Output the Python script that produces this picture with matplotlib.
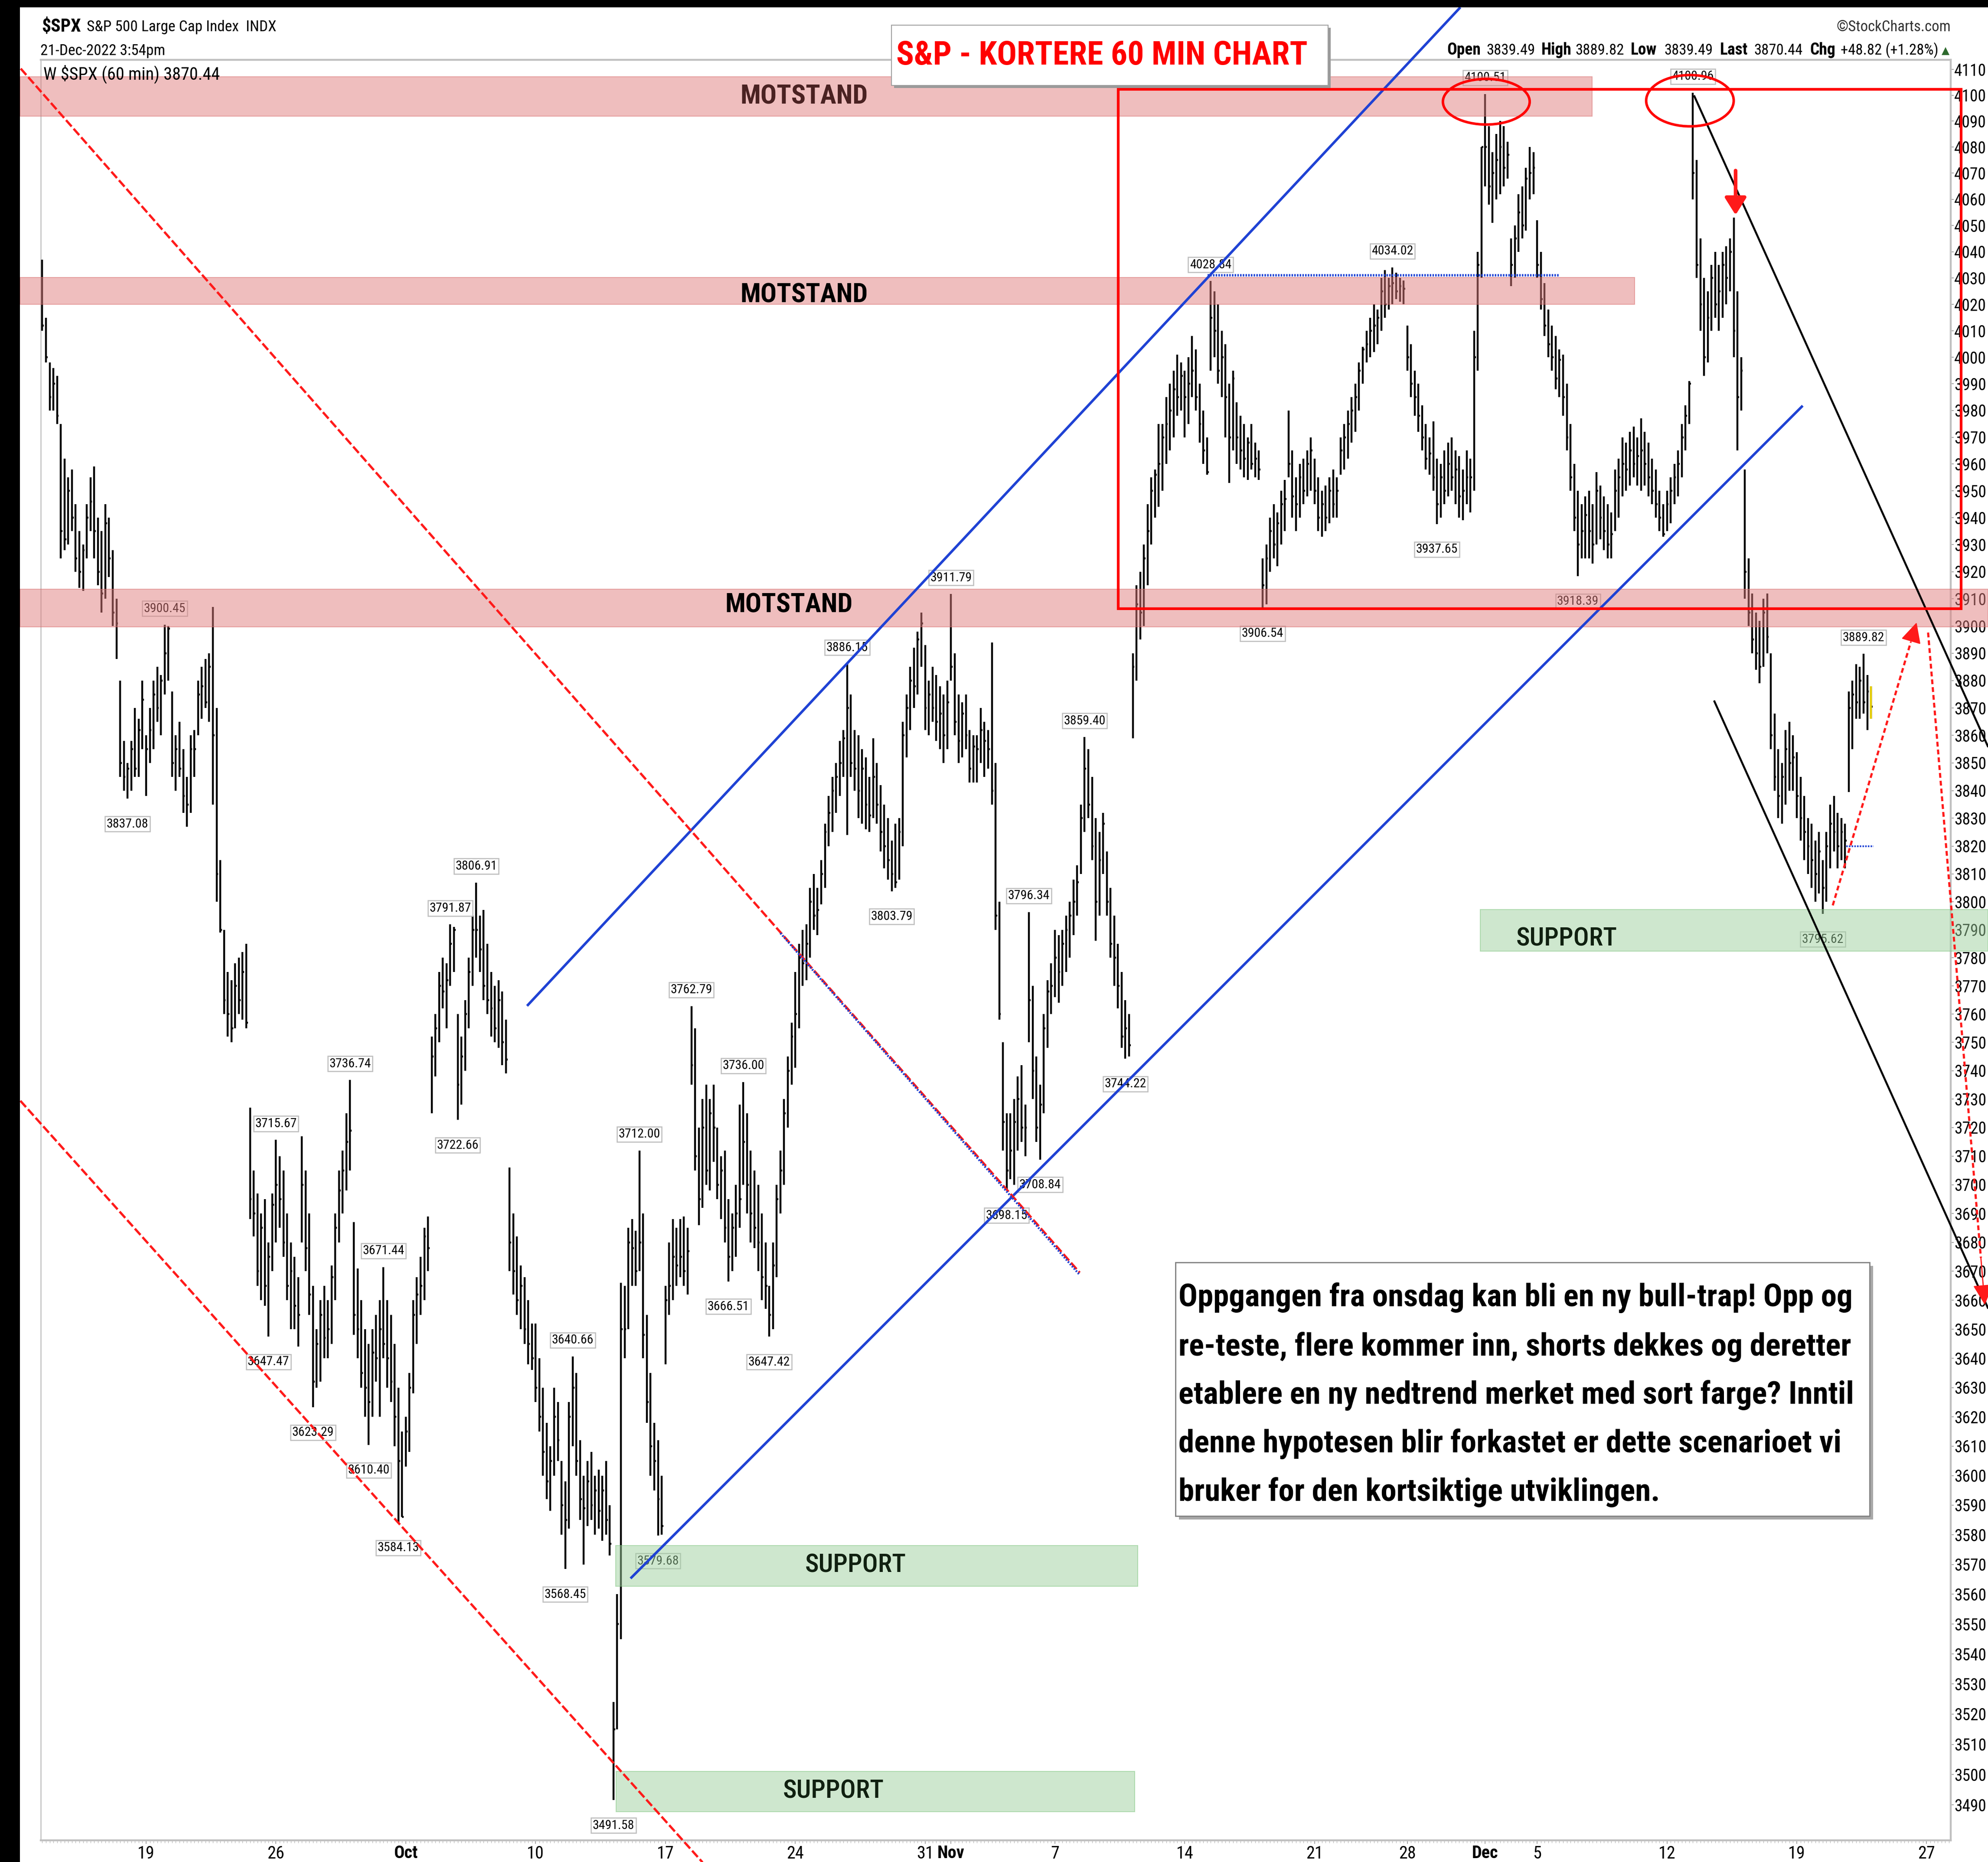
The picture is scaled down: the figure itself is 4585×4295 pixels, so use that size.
import numpy as np
import matplotlib
matplotlib.use("Agg")
import matplotlib.pyplot as plt
from matplotlib import font_manager as fm
from matplotlib.collections import LineCollection
from matplotlib.patches import Rectangle, Ellipse
from matplotlib.ticker import FixedLocator, FixedFormatter, NullLocator

# ---------------------------------------------------------------- data
trade_days = ["09-13", "09-14", "09-15", "09-16", "09-19", "09-20", "09-21", "09-22", "09-23",
              "09-26", "09-27", "09-28", "09-29", "09-30", "10-03", "10-04", "10-05", "10-06",
              "10-07", "10-10", "10-11", "10-12", "10-13", "10-14", "10-17", "10-18", "10-19",
              "10-20", "10-21", "10-24", "10-25", "10-26", "10-27", "10-28", "10-31", "11-01",
              "11-02", "11-03", "11-04", "11-07", "11-08", "11-09", "11-10", "11-11", "11-14",
              "11-15", "11-16", "11-17", "11-18", "11-21", "11-22", "11-23", "11-25", "11-28",
              "11-29", "11-30", "12-01", "12-02", "12-05", "12-06", "12-07", "12-08", "12-09",
              "12-12", "12-13", "12-14", "12-15", "12-16", "12-19", "12-20", "12-21"]
half_days = {"11-25": 4}
future_days = ["12-22", "12-23", "12-27", "12-28"]

bar_high = [
    4037, 4015, 3998, 3996, 3993, 3975, 3962,  # 09-13
    3955, 3958, 3945, 3935, 3930, 3945, 3955,  # 09-14
    3959, 3940, 3935, 3945, 3940, 3928, 3910,  # 09-15
    3880, 3858, 3850, 3858, 3870, 3866, 3880,  # 09-16
    3860, 3870, 3880, 3885, 3882, 3900.45, 3900,  # 09-19
    3876, 3860, 3865, 3855, 3845, 3860, 3862,  # 09-20
    3880, 3885, 3888, 3890, 3907, 3870, 3815,  # 09-21
    3790, 3775, 3772, 3778, 3780, 3782, 3785,  # 09-22
    3727, 3705, 3697, 3690, 3695, 3680, 3697,  # 09-23
    3715.67, 3710, 3705, 3690, 3680, 3675, 3668,  # 09-26
    3717, 3705, 3690, 3665, 3650, 3660, 3665,  # 09-27
    3660, 3672, 3690, 3705, 3712, 3725, 3736.74,  # 09-28
    3687, 3671, 3660, 3650, 3645, 3650, 3655,  # 09-29
    3660, 3671.44, 3660, 3655, 3645, 3630, 3615,  # 09-30
    3620, 3635, 3660, 3668, 3675, 3685, 3689,  # 10-03
    3752, 3760, 3775, 3780, 3778, 3791.87, 3791,  # 10-04
    3760, 3752, 3765, 3780, 3795, 3806.91, 3795,  # 10-05
    3797, 3785, 3775, 3770, 3772, 3768, 3758,  # 10-06
    3706, 3690, 3682, 3672, 3668, 3660, 3652,  # 10-07
    3652, 3640, 3630, 3618, 3610, 3630, 3625,  # 10-10
    3605, 3598, 3625, 3640.66, 3635, 3612, 3600,  # 10-11
    3605, 3608, 3600, 3602, 3600, 3605, 3590,  # 10-12
    3524, 3560, 3666, 3665, 3685, 3688, 3684,  # 10-13
    3712, 3690, 3655, 3635, 3618, 3612, 3600,  # 10-14
    3665, 3680, 3688, 3685, 3688, 3689, 3685,  # 10-17
    3762.79, 3755, 3720, 3730, 3735, 3730, 3735,  # 10-18
    3720, 3710, 3712, 3695, 3690, 3700, 3728,  # 10-19
    3736, 3725, 3712, 3705, 3700, 3690, 3680,  # 10-20
    3665, 3680, 3700, 3712, 3730, 3745, 3757,  # 10-21
    3775, 3785, 3790, 3792, 3805, 3810, 3805,  # 10-24
    3815, 3828, 3838, 3845, 3850, 3858, 3862,  # 10-25
    3886.15, 3875, 3862, 3860, 3855, 3852, 3845,  # 10-26
    3859, 3850, 3842, 3835, 3830, 3822, 3828,  # 10-27
    3830, 3865, 3875, 3885, 3892, 3898, 3905,  # 10-28
    3893, 3880, 3885, 3882, 3878, 3875, 3880,  # 10-31
    3911.79, 3890, 3875, 3872, 3875, 3862, 3860,  # 11-01
    3860, 3870, 3865, 3862, 3894, 3850, 3800,  # 11-02
    3750, 3725, 3725, 3730, 3738, 3742, 3728,  # 11-03
    3796.34, 3770, 3745, 3735, 3760, 3772, 3778,  # 11-04
    3790, 3788, 3790, 3795, 3800, 3808, 3813,  # 11-07
    3835, 3859.40, 3855, 3845, 3830, 3825, 3832,  # 11-08
    3818, 3805, 3795, 3785, 3775, 3765, 3760,  # 11-09
    3890, 3915, 3920, 3930, 3945, 3955, 3958,  # 11-10
    3975, 3975, 3985, 3990, 3995, 4001, 3998,  # 11-11
    3995, 4000, 4008, 4003, 3990, 3980, 3970,  # 11-14
    4028.84, 4025, 4020, 4010, 4005, 3990, 3995,  # 11-15
    3983, 3978, 3975, 3970, 3975, 3968, 3965,  # 11-16
    3925, 3930, 3940, 3945, 3942, 3950, 3954,  # 11-17
    3980, 3965, 3955, 3960, 3962, 3965, 3970,  # 11-18
    3962, 3955, 3950, 3952, 3955, 3958, 3955,  # 11-21
    3970, 3975, 3980, 3985, 3990, 3998, 4004,  # 11-22
    4010, 4015, 4020, 4018, 4030, 4033, 4030,  # 11-23
    4034.02, 4032, 4030, 4029,  # 11-25
    4012, 4005, 3995, 3990, 3982, 3975, 3970,  # 11-28
    3976, 3962, 3960, 3965, 3968, 3970, 3965,  # 11-29
    3963, 3958, 3965, 3962, 4010, 4040, 4080,  # 11-30
    4100.51, 4088, 4078, 4085, 4090, 4088, 4082,  # 12-01
    4045, 4050, 4062, 4065, 4072, 4080, 4078,  # 12-02
    4052, 4040, 4028, 4018, 4012, 4008, 4003,  # 12-05
    4001, 3990, 3975, 3960, 3950, 3945, 3948,  # 12-06
    3950, 3945, 3957, 3952, 3948, 3945, 3942,  # 12-07
    3958, 3962, 3970, 3968, 3972, 3974, 3970,  # 12-08
    3977, 3972, 3968, 3962, 3958, 3950, 3945,  # 12-09
    3950, 3955, 3960, 3965, 3975, 3982, 3991,  # 12-12
    4100.96, 4075, 4045, 4030, 4025, 4035, 4040,  # 12-13
    4035, 4040, 4042, 4045, 4053, 4025, 4000,  # 12-14
    3958, 3925, 3912, 3905, 3902, 3910, 3912,  # 12-15
    3890, 3868, 3855, 3850, 3862, 3865, 3860,  # 12-16
    3854, 3845, 3838, 3830, 3828, 3822, 3825,  # 12-19
    3815, 3825, 3835, 3838, 3832, 3830, 3828,  # 12-20
    3876, 3880, 3886, 3885, 3889.82, 3882, 3878,  # 12-21
]

bar_low = [
    4010, 3998, 3980, 3980, 3975, 3925, 3928,  # 09-13
    3930, 3935, 3920, 3914, 3913, 3925, 3935,  # 09-14
    3925, 3915, 3905, 3910, 3918, 3900, 3888,  # 09-15
    3845, 3840, 3837.08, 3840, 3845, 3845, 3855,  # 09-16
    3838, 3850, 3855, 3865, 3860, 3875, 3880,  # 09-19
    3845, 3840, 3845, 3832, 3827, 3832, 3845,  # 09-20
    3860, 3866, 3870, 3865, 3835, 3800, 3789,  # 09-21
    3760, 3752, 3750, 3755, 3760, 3758, 3755,  # 09-22
    3688, 3682, 3665, 3660, 3658, 3647.47, 3670,  # 09-23
    3680, 3685, 3675, 3660, 3650, 3650, 3644,  # 09-26
    3680, 3670, 3655, 3623.29, 3630, 3632, 3640,  # 09-27
    3640, 3645, 3660, 3680, 3690, 3698, 3705,  # 09-28
    3648, 3640, 3630, 3620, 3610.40, 3620, 3632,  # 09-29
    3620, 3640, 3630, 3625, 3610, 3584.13, 3586,  # 09-30
    3603, 3608, 3628, 3645, 3655, 3660, 3670,  # 10-03
    3725, 3738, 3750, 3762, 3755, 3770, 3775,  # 10-04
    3722.66, 3728, 3740, 3755, 3770, 3780, 3775,  # 10-05
    3765, 3760, 3752, 3750, 3748, 3742, 3739,  # 10-06
    3670, 3662, 3655, 3650, 3645, 3638, 3636,  # 10-07
    3625, 3615, 3600, 3592, 3588, 3600, 3605,  # 10-10
    3580, 3568.45, 3582, 3610, 3600, 3585, 3570,  # 10-11
    3583, 3585, 3580, 3582, 3578, 3580, 3573,  # 10-12
    3491.58, 3515, 3545, 3640, 3650, 3665, 3665,  # 10-13
    3670, 3640, 3618, 3600, 3595, 3579.68, 3580,  # 10-14
    3638, 3655, 3660, 3665, 3668, 3665, 3662,  # 10-17
    3735, 3705, 3686, 3692, 3700, 3698, 3708,  # 10-18
    3695, 3688, 3680, 3666.51, 3670, 3675, 3685,  # 10-19
    3700, 3690, 3680, 3678, 3670, 3660, 3657,  # 10-20
    3647.42, 3650, 3668, 3690, 3700, 3720, 3735,  # 10-21
    3741, 3755, 3770, 3772, 3780, 3790, 3788,  # 10-24
    3799, 3805, 3820, 3825, 3832, 3838, 3845,  # 10-25
    3824, 3845, 3840, 3830, 3828, 3826, 3825,  # 10-26
    3830, 3828, 3818, 3812, 3808, 3803.79, 3805,  # 10-27
    3808, 3820, 3852, 3862, 3870, 3875, 3885,  # 10-28
    3862, 3860, 3865, 3858, 3855, 3850, 3855,  # 10-31
    3880, 3860, 3850, 3852, 3855, 3843, 3843,  # 11-01
    3843, 3850, 3845, 3848, 3835, 3790, 3758,  # 11-02
    3712, 3698.15, 3702, 3700, 3712, 3715, 3710,  # 11-03
    3750, 3730, 3715, 3708.84, 3725, 3748, 3760,  # 11-04
    3766, 3764, 3770, 3775, 3780, 3788, 3795,  # 11-07
    3810, 3825, 3830, 3815, 3786, 3795, 3810,  # 11-08
    3795, 3780, 3770, 3762, 3748, 3744.22, 3745,  # 11-09
    3859, 3880, 3895, 3900, 3915, 3930, 3940,  # 11-10
    3944, 3950, 3960, 3965, 3970, 3978, 3980,  # 11-11
    3970, 3975, 3985, 3980, 3968, 3960, 3956,  # 11-14
    3995, 4000, 3990, 3985, 3970, 3953, 3965,  # 11-15
    3960, 3958, 3955, 3954, 3958, 3955, 3954,  # 11-16
    3906.54, 3908, 3920, 3925, 3922, 3930, 3935,  # 11-17
    3955, 3940, 3935, 3940, 3945, 3948, 3950,  # 11-18
    3945, 3935, 3933, 3935, 3938, 3940, 3940,  # 11-21
    3956, 3958, 3962, 3968, 3972, 3980, 3990,  # 11-22
    3998, 4000, 4002, 4005, 4010, 4015, 4018,  # 11-23
    4020, 4022, 4021, 4020,  # 11-25
    3995, 3985, 3978, 3972, 3965, 3958, 3956,  # 11-28
    3950, 3937.65, 3940, 3945, 3948, 3950, 3945,  # 11-29
    3940, 3939, 3945, 3942, 3950, 3995, 4030,  # 11-30
    4065, 4058, 4051, 4060, 4062, 4065, 4068,  # 12-01
    4027, 4030, 4040, 4045, 4048, 4060, 4062,  # 12-02
    4030, 4018, 4008, 4000, 3995, 3988, 3985,  # 12-05
    3978, 3965, 3950, 3935, 3918.39, 3925, 3925,  # 12-06
    3925, 3923, 3930, 3932, 3928, 3925, 3925,  # 12-07
    3935, 3940, 3948, 3950, 3952, 3955, 3952,  # 12-08
    3950, 3952, 3948, 3945, 3940, 3935, 3933,  # 12-09
    3935, 3938, 3945, 3948, 3955, 3965, 3975,  # 12-12
    4060, 4030, 4010, 3993, 3998, 4010, 4015,  # 12-13
    4010, 4015, 4020, 4025, 4000, 3965, 3980,  # 12-14
    3910, 3900, 3890, 3884, 3879, 3885, 3890,  # 12-15
    3855, 3840, 3830, 3828, 3835, 3840, 3840,  # 12-16
    3830, 3822, 3815, 3810, 3805, 3800, 3803,  # 12-19
    3795.62, 3800, 3812, 3818, 3812, 3815, 3812,  # 12-20
    3839.49, 3855, 3866, 3866, 3868, 3862, 3866,  # 12-21
]

bar_close = [
    4012, 4000, 3985, 3990, 3978, 3935, 3932,  # 09-13
    3950, 3940, 3925, 3920, 3928, 3940, 3946,  # 09-14
    3935, 3920, 3912, 3938, 3925, 3905, 3901,  # 09-15
    3850, 3845, 3848, 3855, 3848, 3862, 3873,  # 09-16
    3855, 3862, 3875, 3870, 3880, 3890, 3899,  # 09-19
    3850, 3855, 3848, 3838, 3835, 3855, 3855,  # 09-20
    3875, 3878, 3872, 3885, 3860, 3810, 3790,  # 09-21
    3765, 3760, 3755, 3770, 3765, 3775, 3757,  # 09-22
    3695, 3690, 3670, 3685, 3665, 3675, 3693,  # 09-23
    3700, 3695, 3680, 3665, 3670, 3658, 3655,  # 09-26
    3700, 3678, 3662, 3632, 3645, 3655, 3647,  # 09-27
    3650, 3668, 3685, 3698, 3705, 3715, 3719,  # 09-28
    3655, 3650, 3635, 3630, 3625, 3642, 3640,  # 09-29
    3650, 3645, 3640, 3632, 3620, 3605, 3586,  # 09-30
    3615, 3630, 3655, 3662, 3665, 3682, 3678,  # 10-03
    3745, 3755, 3770, 3768, 3772, 3785, 3790,  # 10-04
    3735, 3745, 3760, 3775, 3790, 3790, 3783,  # 10-05
    3770, 3765, 3762, 3755, 3765, 3750, 3744,  # 10-06
    3680, 3670, 3660, 3665, 3650, 3645, 3640,  # 10-07
    3630, 3620, 3608, 3598, 3605, 3620, 3612,  # 10-10
    3590, 3585, 3620, 3630, 3605, 3592, 3589,  # 10-11
    3598, 3590, 3595, 3588, 3595, 3585, 3577,  # 10-12
    3515, 3550, 3650, 3650, 3680, 3678, 3670,  # 10-13
    3680, 3648, 3625, 3610, 3605, 3592, 3583,  # 10-14
    3660, 3665, 3675, 3672, 3675, 3670, 3677,  # 10-17
    3742, 3710, 3695, 3720, 3705, 3725, 3720,  # 10-18
    3700, 3705, 3685, 3675, 3685, 3690, 3695,  # 10-19
    3715, 3700, 3690, 3685, 3680, 3668, 3665,  # 10-20
    3655, 3672, 3695, 3705, 3725, 3740, 3752,  # 10-21
    3760, 3780, 3778, 3785, 3800, 3795, 3797,  # 10-24
    3810, 3825, 3832, 3840, 3845, 3850, 3859,  # 10-25
    3870, 3850, 3848, 3840, 3848, 3835, 3831,  # 10-26
    3845, 3835, 3825, 3820, 3815, 3810, 3807,  # 10-27
    3825, 3860, 3870, 3880, 3878, 3895, 3901,  # 10-28
    3870, 3875, 3870, 3865, 3868, 3860, 3872,  # 10-31
    3885, 3865, 3858, 3868, 3860, 3848, 3856,  # 11-01
    3855, 3862, 3858, 3855, 3840, 3795, 3760,  # 11-02
    3722, 3705, 3712, 3722, 3730, 3720, 3720,  # 11-03
    3765, 3740, 3720, 3728, 3755, 3768, 3770,  # 11-04
    3780, 3775, 3785, 3790, 3795, 3800, 3807,  # 11-07
    3830, 3848, 3835, 3820, 3800, 3815, 3828,  # 11-08
    3800, 3785, 3780, 3770, 3752, 3755, 3749,  # 11-09
    3885, 3908, 3905, 3925, 3935, 3950, 3956,  # 11-10
    3960, 3970, 3975, 3980, 3988, 3985, 3993,  # 11-11
    3985, 3990, 3995, 3985, 3975, 3965, 3957,  # 11-14
    4015, 4010, 3995, 4000, 3985, 3970, 3992,  # 11-15
    3970, 3965, 3962, 3968, 3960, 3962, 3958,  # 11-16
    3915, 3925, 3935, 3930, 3938, 3945, 3947,  # 11-17
    3960, 3948, 3945, 3955, 3950, 3960, 3965,  # 11-18
    3950, 3940, 3945, 3940, 3950, 3945, 3950,  # 11-21
    3965, 3970, 3975, 3980, 3985, 3995, 4003,  # 11-22
    4005, 4010, 4012, 4015, 4025, 4020, 4027,  # 11-23
    4028, 4025, 4027, 4026,  # 11-25
    4000, 3990, 3985, 3978, 3970, 3962, 3964,  # 11-28
    3955, 3945, 3955, 3950, 3960, 3955, 3958,  # 11-29
    3948, 3950, 3955, 3955, 4000, 4035, 4080,  # 11-30
    4080, 4065, 4070, 4075, 4080, 4072, 4077,  # 12-01
    4035, 4045, 4055, 4050, 4068, 4070, 4072,  # 12-02
    4035, 4022, 4012, 4005, 4000, 3992, 3999,  # 12-05
    3985, 3970, 3955, 3940, 3930, 3935, 3941,  # 12-06
    3935, 3930, 3950, 3940, 3935, 3930, 3934,  # 12-07
    3950, 3955, 3960, 3958, 3965, 3960, 3963,  # 12-08
    3965, 3960, 3955, 3950, 3945, 3940, 3934,  # 12-09
    3945, 3950, 3955, 3960, 3970, 3978, 3990,  # 12-12
    4070, 4035, 4020, 4000, 4015, 4030, 4020,  # 12-13
    4025, 4035, 4030, 4040, 4010, 3985, 3995,  # 12-14
    3920, 3905, 3895, 3890, 3885, 3905, 3896,  # 12-15
    3860, 3845, 3838, 3845, 3855, 3850, 3852,  # 12-16
    3838, 3830, 3825, 3820, 3815, 3810, 3818,  # 12-19
    3805, 3820, 3828, 3825, 3820, 3825, 3822,  # 12-20
    3870, 3875, 3872, 3880, 3872, 3876, 3870.44,  # 12-21
]

tick_days = ["09-19", "09-26", "10-03", "10-10", "10-17", "10-24", "10-31", "11-01", "11-07",
             "11-14", "11-21", "11-28", "12-01", "12-05", "12-12", "12-19", "12-27"]
tick_text = ["19", "26", "Oct", "10", "17", "24", "31", "Nov", "7", "14", "21", "28", "Dec",
             "5", "12", "19", "27"]
month_text = ["Oct", "Nov", "Dec"]
y_ticks = list(range(3490, 4111, 10))

# (day, bar of the day, high/low) for the StockCharts price call-outs
price_labels = [("09-19", 5, "h"), ("09-16", 2, "l"), ("10-05", 5, "h"), ("10-04", 5, "h"),
                ("09-28", 6, "h"), ("09-26", 0, "h"), ("10-05", 0, "l"), ("09-30", 1, "h"),
                ("09-23", 5, "l"), ("09-27", 3, "l"), ("09-29", 4, "l"), ("09-30", 5, "l"),
                ("10-11", 3, "h"), ("10-11", 1, "l"), ("10-13", 0, "l"), ("10-14", 0, "h"),
                ("10-14", 5, "l"), ("10-18", 0, "h"), ("10-20", 0, "h"), ("10-19", 3, "l"),
                ("10-21", 0, "l"), ("10-26", 0, "h"), ("11-01", 0, "h"), ("10-27", 5, "l"),
                ("11-04", 0, "h"), ("11-08", 1, "h"), ("11-04", 3, "l"), ("11-03", 1, "l"),
                ("11-09", 5, "l"), ("11-15", 0, "h"), ("11-25", 0, "h"), ("11-17", 0, "l"),
                ("12-01", 0, "h"), ("12-13", 0, "h"), ("11-29", 1, "l"), ("12-06", 4, "l"),
                ("12-21", 4, "h"), ("12-20", 0, "l")]

# zones: (x from, x to [bar index], price low, price high)
resist_zones = [(-6.0, 417.8, 4091.9, 4107.1), (-6.0, 429.3, 4020.0, 4030.2),
                (-6.0, 524.6, 3899.7, 3913.5)]
support_zones = [(154.7, 294.5, 3487.8, 3501.1), (154.6, 295.3, 3562.7, 3576.4),
                 (387.7, 524.6, 3782.3, 3797.2)]

# hand-drawn trend lines, end points (bar index, price)
blue_upper = [(130.7, 3762.9), (382.3, 4134.1)]
blue_lower = [(158.6, 3565.3), (474.6, 3981.8)]
red_upper = [(-5.8, 4110.3), (279.7, 3669.5)]
blue_on_red = [(199.0, 3788.8), (279.7, 3668.7)]
red_lower = [(-5.9, 3729.4), (178.0, 3471.2)]
black_upper = [(445.4, 4099.6), (524.5, 3856.1)]
black_lower = [(450.8, 3872.4), (524.5, 3657.4)]
blue_dot_top = [(314.2, 4031.0), (408.9, 4031.0)]
blue_dot_last = [(486.3, 3819.9), (493.7, 3819.9)]
arrow_up = [(482.7, 3798.7), (505.3, 3901.3)]
arrow_down = [(508.4, 3897.6), (523.7, 3658.4)]
red_box = (290.1, 517.3, 3906.4, 4102.3)
ellipses = [(389.3, 4097.5, 23.4, 17.6), (444.2, 4097.9, 23.6, 19.8)]
small_arrow = [(456.5, 4071.0), (456.5, 4054.0)]

motstand_pos = [(205.4, 4099.5), (205.4, 4023.5), (201.3, 3907.8)]
support_pos = [(213.3, 3494.6), (219.3, 3569.8), (411.0, 3786.9)]

note_lines = ["Oppgangen fra onsdag kan bli en ny bull-trap! Opp og",
              "re-teste, flere kommer inn, shorts dekkes og deretter",
              "etablere en ny nedtrend merket med sort farge? Inntil",
              "denne hypotesen blir forkastet er dette scenarioet vi",
              "bruker for den kortsiktige utviklingen."]
title_text = "S&P - KORTERE 60 MIN CHART"
ohlc_parts = [("Open", True), ("3839.49", False), ("High", True), ("3889.82", False),
              ("Low", True), ("3839.49", False), ("Last", True), ("3870.44", False),
              ("Chg", True), ("+48.82 (+1.28%)", False)]

# ---------------------------------------------------------------- fonts
entries = fm.fontManager.ttflist
names = {f.name for f in entries}
if "Roboto Condensed" in names:
    FAM, K, KB, STR = ["Roboto Condensed", "DejaVu Sans"], 1.0, 1.0, "normal"
elif "Liberation Sans Narrow" in names:
    FAM, K, KB, STR = ["Liberation Sans Narrow", "DejaVu Sans"], 1.1, 1.13, "normal"
elif any(f.name == "DejaVu Sans" and str(f.stretch) in ("condensed", "semi-condensed")
         for f in entries):
    FAM, K, KB, STR = ["DejaVu Sans"], 0.88, 0.83, "condensed"
else:
    FAM, K, KB, STR = ["DejaVu Sans"], 0.79, 0.745, "normal"
plt.rcParams["font.family"] = FAM
plt.rcParams["font.stretch"] = STR
plt.rcParams["lines.scale_dashes"] = False

# ---------------------------------------------------------------- calendar
day_start = {}
pos = 0
for d in trade_days:
    day_start[d] = pos
    pos += half_days.get(d, 7)
n_bars = pos
for d in future_days:
    day_start[d] = pos
    pos += 7
assert len(bar_high) == n_bars == len(bar_low) == len(bar_close)

W, H, DPI = 4585, 4295, 100
fig = plt.figure(figsize=(W / DPI, H / DPI), dpi=DPI, facecolor="white")


def P(x, y):
    return (x / W, 1 - y / H)


ax = fig.add_axes([94 / W, 1 - 4245 / H, (4499 - 94) / W, (4245 - 138) / H])
ax.set_yscale("log")
ax.set_xlim(-0.4, 514.5)
ax.set_ylim(3478.4, 4113.7)

# ---------------------------------------------------------------- bars
xi = np.arange(n_bars)
segs = [[(i, lo), (i, hi)] for i, hi, lo in zip(xi, bar_high, bar_low)]
segs += [[(i, c), (i + 0.45, c)] for i, c in zip(xi, bar_close)]
ax.add_collection(LineCollection(segs, colors="black", linewidths=3.2, zorder=3,
                                 capstyle="butt"))
ax.plot([xi[-1], xi[-1]], [bar_low[-1], bar_high[-1]], color="#e8d000", lw=3.2,
        zorder=3.2, solid_capstyle="butt")

# ---------------------------------------------------------------- zones
for x0, x1, p0, p1 in resist_zones:
    ax.add_patch(Rectangle((x0, p0), x1 - x0, p1 - p0, facecolor="#e07f7f", alpha=0.5,
                           edgecolor="#d86a6a", lw=1.5, zorder=4, clip_on=False))
for x0, x1, p0, p1 in support_zones:
    ax.add_patch(Rectangle((x0, p0), x1 - x0, p1 - p0, facecolor="#9fd19f", alpha=0.5,
                           edgecolor="#7cc47c", lw=1.5, zorder=4, clip_on=False))

for k, (x, p) in enumerate(motstand_pos):
    ax.text(x, p, "MOTSTAND", ha="center", va="center", fontsize=44.5 * KB,
            fontweight="bold", color="#000000" if k else "#4a2222",
            zorder=8, clip_on=False)
for x, p in support_pos:
    ax.text(x, p, "SUPPORT", ha="center", va="center", fontsize=43 * K,
            fontweight="medium", color="#102010", zorder=8, clip_on=False)

# ---------------------------------------------------------------- price labels
for d, b, kind in price_labels:
    i = day_start[d] + b
    v = bar_high[i] if kind == "h" else bar_low[i]
    off = 27 if kind == "h" else -42
    ax.annotate(f"{v:.2f}", xy=(i, v), xytext=(0, off), textcoords="offset points",
                ha="center", va="center", fontsize=21.5 * K, color="black", zorder=3.5,
                annotation_clip=False,
                bbox=dict(boxstyle="square,pad=0.12", fc="white", ec="#bdbdbd", lw=1.8))

# ---------------------------------------------------------------- trend lines


def seg(pts, **kw):
    xs, ys = zip(*pts)
    ax.plot(xs, ys, clip_on=False, **kw)


BLUE = "#1f42d4"
RED = "#ff1a1a"
seg(blue_upper, color=BLUE, lw=4.2, zorder=6, solid_capstyle="butt")
seg(blue_lower, color=BLUE, lw=4.2, zorder=6, solid_capstyle="butt")
seg(red_upper, color=RED, lw=3.8, zorder=6, dashes=(14, 5))
seg(blue_on_red, color=BLUE, lw=3.6, zorder=6.1, dashes=(2.5, 2.5))
seg(red_lower, color=RED, lw=3.8, zorder=6, dashes=(14, 5))
seg(black_upper, color="black", lw=3.3, zorder=6)
seg(black_lower, color="black", lw=3.3, zorder=6)
seg(blue_dot_top, color=BLUE, lw=4.0, zorder=6, dashes=(2.5, 2.0))
seg(blue_dot_last, color=BLUE, lw=2.8, zorder=6, dashes=(2.5, 2.0))

for (x0, y0), (x1, y1) in (arrow_up, arrow_down):
    xm = x0 + (x1 - x0) * 0.93
    ym = y0 * (y1 / y0) ** 0.93
    ax.plot([x0, xm], [y0, ym], color=RED, lw=3.6, dashes=(8, 5), zorder=6, clip_on=False)
    ax.annotate("", xy=(x1, y1), xytext=(xm, ym), annotation_clip=False, zorder=6,
                arrowprops=dict(arrowstyle="-|>,head_length=0.7,head_width=0.35",
                                color=RED, lw=2, mutation_scale=42, shrinkA=0, shrinkB=0))

ax.annotate("", xy=small_arrow[1], xytext=small_arrow[0], annotation_clip=False, zorder=7,
            arrowprops=dict(arrowstyle="-|>,head_length=0.8,head_width=0.5", color=RED,
                            lw=6, mutation_scale=30, shrinkA=0, shrinkB=0))

x0, x1, p0, p1 = red_box
ax.add_patch(Rectangle((x0, p0), x1 - x0, p1 - p0, fill=False, edgecolor="#ff0000", lw=4.5,
                       zorder=6, clip_on=False))
for cx, cy, w, h in ellipses:
    ax.add_patch(Ellipse((cx, cy), w, h, fill=False, edgecolor="#ff0000", lw=4.2,
                         zorder=6, clip_on=False))

# ---------------------------------------------------------------- axes styling
ax.yaxis.tick_right()
ax.yaxis.set_major_locator(FixedLocator(y_ticks))
ax.yaxis.set_major_formatter(FixedFormatter([str(v) for v in y_ticks]))
ax.yaxis.set_minor_locator(NullLocator())
ax.tick_params(axis="y", which="major", direction="out", length=5, width=1.5,
               color="#a8a8a8", labelcolor="black", labelsize=27 * K, pad=1)

ax.set_xticks([day_start[d] for d in tick_days])
ax.set_xticklabels(tick_text)
for t in ax.get_xticklabels():
    if t.get_text() in month_text:
        t.set_fontweight("bold")
ax.set_xticks(np.arange(0, 515), minor=True)
ax.tick_params(axis="x", which="major", direction="out", length=6, width=1.5,
               color="#a8a8a8", labelcolor="black", labelsize=29 * K, pad=2)
ax.tick_params(axis="x", which="minor", direction="out", length=4, width=1.0,
               color="#bcbcbc")

for s in ("top", "right", "bottom"):
    ax.spines[s].set_color("#c0c0c0")
    ax.spines[s].set_linewidth(3.2)
ax.spines["left"].set_color("#c8c8c8")
ax.spines["left"].set_linewidth(2.0)

# ---------------------------------------------------------------- header texts
fig.text(*P(96, 73), "$SPX", fontsize=30 * KB, fontweight="bold", va="baseline")
fig.text(*P(200, 72), "S&P 500 Large Cap Index  INDX", fontsize=25.5 * K, va="baseline")
fig.text(*P(93, 127), "21-Dec-2022 3:54pm", fontsize=25.5 * K, va="baseline")
fig.text(*P(100, 184), "W $SPX (60 min) 3870.44", fontsize=29 * K, va="baseline")
fig.text(*P(4499, 72), "\u00a9StockCharts.com", fontsize=25 * K, va="baseline",
         ha="right", color="#333333")
ohlc_x = [3337, 3428, 3555, 3633, 3761, 3838, 3967, 4045, 4174, 4245]
for x, (txt, bold) in zip(ohlc_x, ohlc_parts):
    fig.text(*P(x, 126), txt, fontsize=(27 * KB if bold else 25 * K),
             fontweight="bold" if bold else "normal", va="baseline")
fig.text(*P(4478, 124), "\u25b2", fontsize=17, color="#2d6a2d", va="baseline",
         family=["DejaVu Sans"])

# title box
fig.add_artist(Rectangle(P(2062, 203), 1007 / W, 139 / H, transform=fig.transFigure,
                         facecolor="#9a9a9a", edgecolor="none", zorder=20))
fig.add_artist(Rectangle(P(2056, 197), 1007 / W, 139 / H, transform=fig.transFigure,
                         facecolor="white", edgecolor="#a0a0a0", lw=1.5, zorder=21))
fig.text(*P(2541, 128), title_text, ha="center", va="center", fontsize=54.5 * KB,
         fontweight="bold", color="#ff0000", zorder=22)

# note box
fig.add_artist(Rectangle(P(2719, 3505), 1601 / W, 585 / H, transform=fig.transFigure,
                         facecolor="#a8a8a8", edgecolor="none", zorder=20))
fig.add_artist(Rectangle(P(2711, 3497), 1601 / W, 585 / H, transform=fig.transFigure,
                         facecolor="white", edgecolor="#808080", lw=2.0, zorder=21))
for yb, line in zip([3013, 3127, 3238, 3350, 3462], note_lines):
    fig.text(*P(2718, yb), line, fontsize=52.5 * KB, fontweight="bold", va="baseline",
             color="black", zorder=22)

# screenshot black frame
fig.add_artist(Rectangle((0, 1 - 17 / H), 1, 17 / H, transform=fig.transFigure,
                         facecolor="black", edgecolor="none", zorder=50))
fig.add_artist(Rectangle((0, 0), 46 / W, 1, transform=fig.transFigure,
                         facecolor="black", edgecolor="none", zorder=50))

fig.savefig("out.png", dpi=DPI, facecolor="white")
